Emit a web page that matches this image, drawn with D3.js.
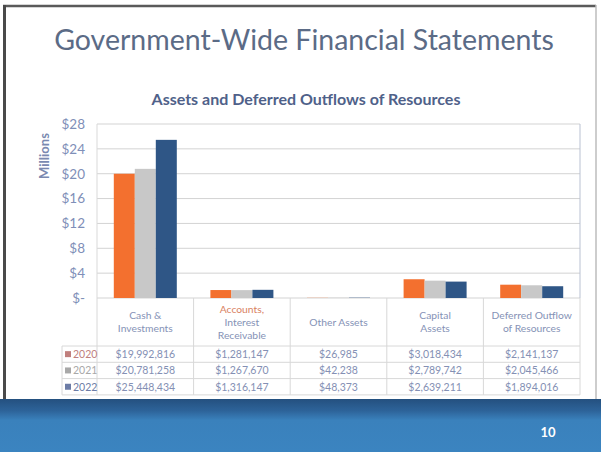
<!DOCTYPE html>
<html><head><meta charset="utf-8">
<script src="https://cdn.jsdelivr.net/npm/d3@7"></script>
<style>body{margin:0;background:#fff}svg{display:block}text{font-family:Lato,"Open Sans",sans-serif}</style>
</head><body><svg id="c" width="601" height="452"></svg>
<script>
const categories = ["Cash & Investments", "Accounts, Interest Receivable", "Other Assets", "Capital Assets", "Deferred Outflow of Resources"];
const categoryLines = [["Cash &", "Investments"], ["Accounts,", "Interest", "Receivable"], ["Other Assets"], ["Capital", "Assets"], ["Deferred Outflow", "of Resources"]];
const years = ["2020", "2021", "2022"];
const values2020 = [19992816, 1281147, 26985, 3018434, 2141137];
const values2021 = [20781258, 1267670, 42238, 2789742, 2045466];
const values2022 = [25448434, 1316147, 48373, 2639211, 1894016];
const yTicks = [0, 4, 8, 12, 16, 20, 24, 28];
const seriesValues = [values2020, values2021, values2022];
const barColors = ["#f3702f", "#c8c8c8", "#2f5686"];
const legendColors = ["#c07f7d", "#a8a8a8", "#6c7ca6"];

const svg = d3.select("#c");
const W = 601, H = 452;

// outer slide frame
svg.append("rect").attr("x", 0).attr("y", 0).attr("width", W).attr("height", H).attr("fill", "#fff");
svg.append("line").attr("x1", 3).attr("x2", 596).attr("y1", 6).attr("y2", 6).attr("stroke", "#5a5a5a").attr("stroke-width", 2.5);
svg.append("line").attr("x1", 4.5).attr("x2", 4.5).attr("y1", 5).attr("y2", 400).attr("stroke", "#4a4a4a").attr("stroke-width", 3);
svg.append("line").attr("x1", 596).attr("x2", 596).attr("y1", 5).attr("y2", 400).attr("stroke", "#bdbdbd").attr("stroke-width", 1.5);

// bottom band
const defs = svg.append("defs");
const g1 = defs.append("linearGradient").attr("id", "band").attr("x1", 0).attr("x2", 0).attr("y1", 0).attr("y2", 1);
g1.append("stop").attr("offset", "0%").attr("stop-color", "#24507f");
g1.append("stop").attr("offset", "22%").attr("stop-color", "#2d6399");
g1.append("stop").attr("offset", "40%").attr("stop-color", "#3a81bc");
g1.append("stop").attr("offset", "100%").attr("stop-color", "#3b84c0");
svg.append("rect").attr("x", 0).attr("y", 399).attr("width", W).attr("height", H - 399).attr("fill", "url(#band)");
svg.append("text").attr("x", 548).attr("y", 437).attr("text-anchor", "middle").attr("fill", "#fff")
  .attr("font-size", 13).attr("font-weight", "bold").text("10");

// titles
svg.append("text").attr("x", 304).attr("y", 50).attr("text-anchor", "middle").attr("fill", "#5b6b86")
  .attr("font-size", 28.5).text("Government-Wide Financial Statements");
svg.append("text").attr("x", 306).attr("y", 105).attr("text-anchor", "middle").attr("fill", "#4f6189")
  .attr("font-size", 16).attr("font-weight", "bold").text("Assets and Deferred Outflows of Resources");

// scales
const x = d3.scaleBand().domain(categories).range([97, 580]).paddingInner(0).paddingOuter(0);
const xs = d3.scaleBand().domain(years).range([0, x.bandwidth()]).paddingInner(0).paddingOuter(0.8);
const y = d3.scaleLinear().domain([0, 28e6]).range([298, 124]);

// gridlines
svg.append("g").selectAll("line").data(yTicks).join("line")
  .attr("x1", 97).attr("x2", 580).attr("y1", d => y(d * 1e6)).attr("y2", d => y(d * 1e6))
  .attr("stroke", "#d3d3d3").attr("stroke-width", 1);
svg.append("line").attr("x1", 97).attr("x2", 97).attr("y1", 124).attr("y2", 298).attr("stroke", "#d9d9d9");
svg.append("line").attr("x1", 580).attr("x2", 580).attr("y1", 124).attr("y2", 298).attr("stroke", "#b9c1d2");

// axis
const axis = svg.append("g").attr("transform", "translate(97,0)")
  .call(d3.axisLeft(y).tickValues(yTicks.map(v => v * 1e6)).tickSize(0).tickPadding(12)
    .tickFormat(d => d === 0 ? "$-" : "$" + d / 1e6));
axis.select(".domain").remove();
axis.selectAll("text").attr("fill", "#7f8fb8").attr("font-size", 13.5).attr("font-family", "Lato, sans-serif");

svg.append("text").attr("transform", "translate(49,156) rotate(-90)").attr("text-anchor", "middle")
  .attr("fill", "#7a89b0").attr("font-size", 13).attr("font-weight", "bold").text("Millions");

// bars
const barData = [];
years.forEach((yr, i) => categories.forEach((c, j) => barData.push({ yr, i, c, v: seriesValues[i][j] })));
svg.append("g").selectAll("rect").data(barData).join("rect")
  .attr("x", d => x(d.c) + xs(d.yr)).attr("width", xs.bandwidth())
  .attr("y", d => y(d.v)).attr("height", d => y(0) - y(d.v))
  .attr("fill", d => barColors[d.i]);

// data table
const tg = svg.append("g");
const rowTop = 346, rowH = 16.3;
const lineCol = "#d8d8d8";
for (let r = 0; r <= 3; r++) {
  tg.append("line").attr("x1", 62).attr("x2", 580).attr("y1", rowTop + r * rowH).attr("y2", rowTop + r * rowH).attr("stroke", lineCol);
}
const bounds = categories.map(c => x(c)).concat([580]);
tg.selectAll("line.v").data(bounds).join("line").attr("class", "v")
  .attr("x1", d => d).attr("x2", d => d).attr("y1", 298).attr("y2", rowTop + 3 * rowH).attr("stroke", lineCol);
tg.append("line").attr("x1", 62).attr("x2", 62).attr("y1", rowTop).attr("y2", rowTop + 3 * rowH).attr("stroke", lineCol);

// header labels
categories.forEach((c, j) => {
  const lines = categoryLines[j];
  const cx = x(c) + x.bandwidth() / 2;
  lines.forEach((ln, k) => {
    tg.append("text").attr("x", cx).attr("y", 322 - (lines.length - 1) * 13 / 2 + k * 13 + 3.5)
      .attr("text-anchor", "middle").attr("font-size", 10.3)
      .attr("fill", (j === 1 && k === 0) ? "#d9825f" : "#8592b6").text(ln);
  });
});

// rows
const fmt = d3.format(",");
years.forEach((yr, i) => {
  const cy = rowTop + i * rowH + rowH / 2;
  tg.append("rect").attr("x", 65).attr("y", cy - 3).attr("width", 6).attr("height", 6).attr("fill", legendColors[i]);
  tg.append("text").attr("x", 73).attr("y", cy + 3.8).attr("font-size", 10.5).attr("fill", legendColors[i]).text(yr);
  categories.forEach((c, j) => {
    tg.append("text").attr("x", x(c) + x.bandwidth() / 2).attr("y", cy + 3.8).attr("text-anchor", "middle")
      .attr("font-size", 10.5).attr("fill", "#8490b4").text("$" + fmt(seriesValues[i][j]));
  });
});
</script></body></html>
